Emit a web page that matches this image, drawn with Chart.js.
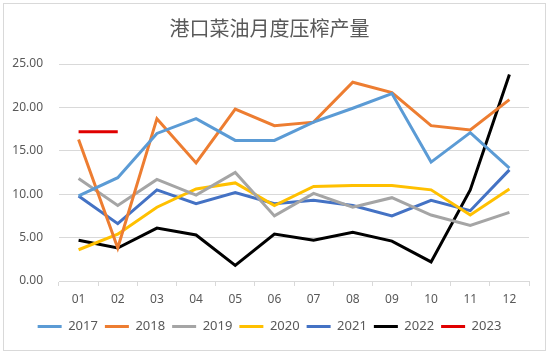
<!DOCTYPE html>
<html>
<head>
<meta charset="utf-8">
<script src="https://cdn.jsdelivr.net/npm/chart.js@4/dist/chart.umd.min.js"></script>
<style>
html,body{margin:0;padding:0;background:#fff;}
#wrap{width:550px;height:355px;position:relative;}
</style>
</head>
<body>
<div id="wrap"><canvas id="c" width="550" height="355"></canvas></div>
<script>
const categories = ["01","02","03","04","05","06","07","08","09","10","11","12"];
const yTicks = [0, 5, 10, 15, 20, 25];
const s2017 = [9.8, 11.9, 17.0, 18.7, 16.2, 16.2, 18.3, 19.9, 21.6, 13.7, 17.1, 13.0];
const s2018 = [16.3, 3.8, 18.7, 13.6, 19.8, 17.9, 18.3, 22.9, 21.7, 17.9, 17.4, 20.9];
const s2019 = [11.8, 8.7, 11.7, 9.9, 12.5, 7.5, 10.1, 8.5, 9.6, 7.6, 6.4, 7.9];
const s2020 = [3.6, 5.4, 8.5, 10.6, 11.3, 8.7, 10.9, 11.0, 11.0, 10.5, 7.6, 10.6];
const s2021 = [9.8, 6.6, 10.5, 8.9, 10.2, 8.9, 9.3, 8.7, 7.5, 9.3, 8.1, 12.8];
const s2022 = [4.7, 3.8, 6.1, 5.3, 1.8, 5.4, 4.7, 5.6, 4.6, 2.2, 10.5, 23.8];
const s2023 = [17.2, 17.2, null, null, null, null, null, null, null, null, null, null];
const seriesNames = ["2017","2018","2019","2020","2021","2022","2023"];
const seriesColors = ["#5B9BD5","#ED7D31","#A5A5A5","#FFC000","#4472C4","#000000","#E00000"];
const seriesData = [s2017, s2018, s2019, s2020, s2021, s2022, s2023];

const datasets = seriesData.map((d, i) => ({
  label: seriesNames[i],
  data: d,
  borderColor: seriesColors[i],
  backgroundColor: seriesColors[i],
  borderWidth: 3,
  pointRadius: 0,
  pointHoverRadius: 0,
  tension: 0,
  spanGaps: false
}));

const borderPlugin = {
  id: 'outerBorder',
  beforeDraw(chart) {
    const ctx = chart.ctx;
    ctx.save();
    ctx.fillStyle = '#ffffff';
    ctx.fillRect(0, 0, chart.width, chart.height);
    ctx.strokeStyle = '#d9d9d9';
    ctx.lineWidth = 1;
    ctx.strokeRect(3.5, 3.5, 542, 347);
    ctx.restore();
  }
};

const txt = '#595959';
const fam = '"Noto Sans", "Noto Sans CJK SC", sans-serif';

new Chart(document.getElementById('c'), {
  type: 'line',
  data: { labels: categories, datasets },
  plugins: [borderPlugin],
  options: {
    responsive: false,
    animation: false,
    events: [],
    layout: { padding: { left: 10, right: 21, top: 0, bottom: 12 } },
    plugins: {
      title: {
        display: true,
        text: '港口菜油月度压榨产量',
        color: txt,
        font: { family: '"Noto Sans CJK SC", sans-serif', size: 20, weight: 'normal' },
        padding: { top: 16, bottom: 24 }
      },
      legend: {
        position: 'bottom',
        labels: {
          color: txt,
          font: { family: fam, size: 13 },
          boxWidth: 24,
          boxHeight: 3,
          padding: 7,
          generateLabels(chart) {
            return chart.data.datasets.map((ds, i) => ({
              text: ds.label,
              fillStyle: ds.borderColor,
              strokeStyle: ds.borderColor,
              lineWidth: 0,
              fontColor: txt,
              hidden: false,
              datasetIndex: i
            }));
          }
        }
      },
      tooltip: { enabled: false }
    },
    scales: {
      x: {
        offset: true,
        grid: { display: true, drawOnChartArea: false, drawTicks: true, tickLength: 5, offset: true, color: '#d9d9d9' },
        border: { display: true, color: '#d9d9d9' },
        ticks: { color: txt, font: { family: fam, size: 12 }, padding: 6, maxRotation: 0 },
        afterFit(scale) { scale.height = 32; }
      },
      y: {
        min: 0,
        max: 25,
        afterBuildTicks(scale) { scale.ticks = yTicks.map(v => ({ value: v })); },
        grid: { color: '#d9d9d9', drawTicks: false },
        border: { display: false },
        ticks: {
          color: txt,
          font: { family: fam, size: 12 },
          padding: 16,
          callback: v => Number(v).toFixed(2)
        },
        afterFit(scale) { scale.width = 49; }
      }
    }
  }
});
</script>
</body>
</html>
